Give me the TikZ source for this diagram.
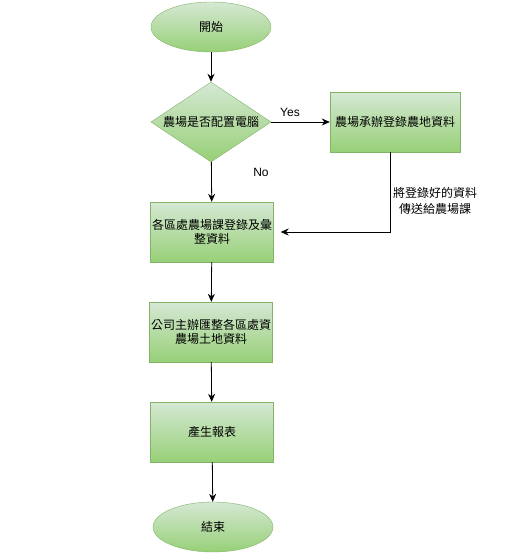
\documentclass[tikz,border=0pt]{standalone}
\usepackage{fontspec}
\setmainfont{Liberation Sans}
\newfontfamily\cjk{Noto Sans CJK TC}
\usetikzlibrary{shapes.geometric,arrows.meta}

\definecolor{boxtop}{HTML}{D5E8D4}
\definecolor{boxbot}{HTML}{97D077}
\definecolor{boxline}{HTML}{82B366}

\tikzset{
  green/.style={draw=boxline,top color=boxtop,bottom color=boxbot,
    font=\cjk\fontsize{12}{14}\selectfont,align=center},
  term/.style={green,ellipse,minimum width=120pt,minimum height=50pt,inner sep=0pt},
  task/.style={green,rectangle,minimum width=123pt,minimum height=60pt,inner sep=0pt},
  ask/.style={green,diamond,aspect=1.5,minimum width=120pt,minimum height=80pt,inner sep=0pt},
  answer/.style={font=\fontsize{12}{14}\selectfont},
  flow/.style={-{Stealth[length=8pt,width=7pt]},line width=0.8pt}
}

\begin{document}
\begin{tikzpicture}[x=1pt,y=-1pt]
\useasboundingbox (0,0) rectangle (527,560);

\node[term] (start) at (211,27) {開始};
\node[ask] (farmpc) at (211,122) {農場是否配置電腦};
\node[task,minimum width=130pt] (farmreg) at (395,122) {農場承辦登錄農地資料};
\node[task] (areareg) at (212,232) {各區處農場課登錄及彙\\整資料};
\node[task] (company) at (211,332) {公司主辦匯整各區處資\\農場土地資料};
\node[task] (report) at (212,432) {產生報表};
\node[term] (stop) at (213,527) {結束};

\node[answer] (yes) at (290,112) {Yes};
\node[answer] (no) at (261,172) {No};
\node[font=\cjk\fontsize{12}{16}\selectfont,align=center] (send) at (435,201)
  {將登錄好的資料\\傳送給農場課};

\draw[flow] (start) -- (farmpc);
\draw[flow] (farmpc) -- (farmreg);
\draw[flow] (farmpc) -- (areareg);
\draw[flow,shorten >=7pt] ([xshift=-5pt]farmreg.south) |- (areareg.east);
\draw[flow] (areareg) -- (company);
\draw[flow] (company) -- (report);
\draw[flow] (report) -- (stop);
\end{tikzpicture}
\end{document}
